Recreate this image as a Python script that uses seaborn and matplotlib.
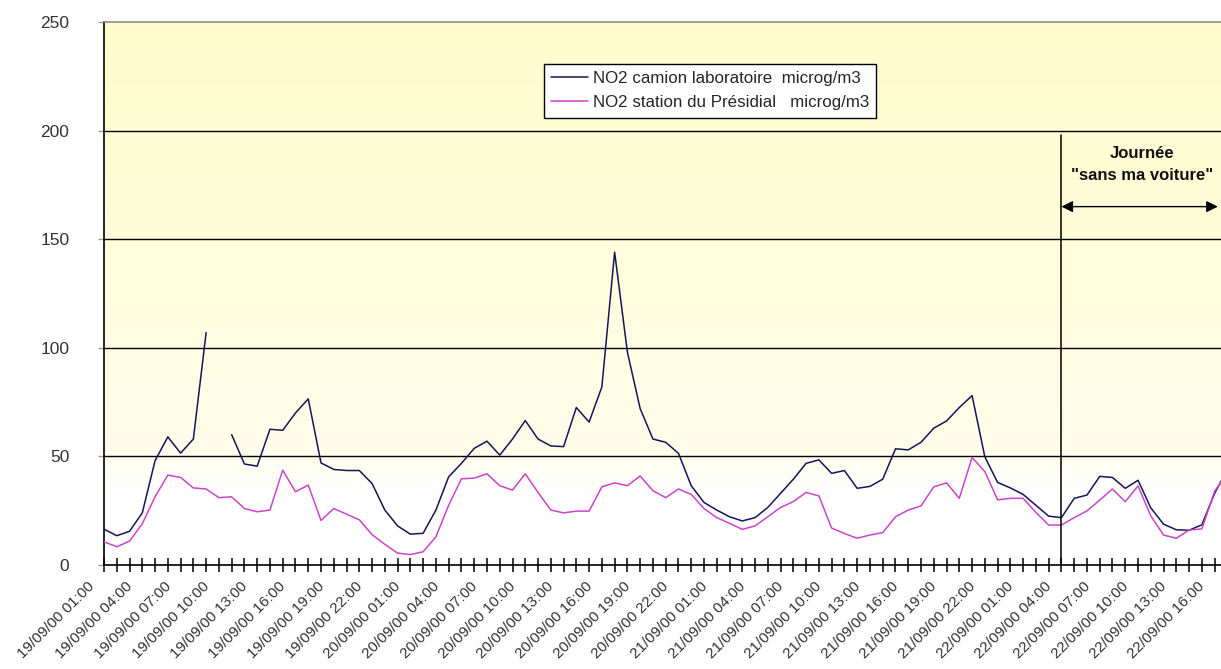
import numpy as np
import pandas as pd
import matplotlib
matplotlib.use("Agg")
import matplotlib.pyplot as plt
from matplotlib.colors import LinearSegmentedColormap
from matplotlib.lines import Line2D
import matplotlib.transforms as mtransforms
import seaborn as sns

# ---------------- data ----------------
series_names = ["NO2 camion laboratoire  microg/m3", "NO2 station du Présidial   microg/m3"]

camion = [16.5, 13.5, 15.5, 24, 48, 59, 51.5, 58, 107, np.nan,
          60, 46.5, 45.5, 62.5, 62, 70, 76.5, 47, 44, 43.5,
          43.5, 37.5, 25.3, 18, 14.2, 14.6, 25.3, 40.6, 46.8, 53.7,
          57, 50.6, 58, 66.5, 58, 54.8, 54.5, 72.5, 65.8, 82,
          144, 98, 72, 58, 56.5, 51.4, 36.5, 28.8, 25.3, 22.2,
          20.3, 21.8, 26.5, 33, 39.5, 46.8, 48.4, 42.2, 43.5, 35.3,
          36.2, 39.5, 53.5, 53, 56.5, 63, 66.3, 72.5, 78, 49.8,
          38, 35.5, 32.5, 27.5, 22.5, 21.8, 30.7, 32.2, 40.8, 40.3,
          35.3, 39, 26.3, 18.8, 16.2, 16, 18.5, 33, 44]

presidial = [10.7, 8.4, 11, 19, 31.4, 41.4, 40.3, 35.5, 35, 31,
             31.4, 26, 24.5, 25.3, 43.7, 33.7, 36.8, 20.5, 26, 23.4,
             20.8, 14, 9.5, 5.5, 4.8, 6.1, 13, 27.5, 39.7, 40,
             42, 36.5, 34.5, 42, 33.4, 25.3, 24, 24.8, 24.8, 36,
             37.8, 36.5, 41, 34.2, 31, 35, 32.5, 26, 21.8, 19.2,
             16.4, 18, 22.2, 26.5, 29.2, 33.4, 31.8, 17, 14.5, 12.3,
             13.8, 14.9, 22.2, 25.3, 27.2, 36, 37.8, 30.7, 49.5, 43,
             30, 30.7, 30.7, 24.2, 18.4, 18.4, 21.8, 24.9, 29.9, 35,
             29.1, 36.4, 22.6, 13.8, 12.3, 16.1, 16.6, 34, 42]

tick_labels = [
    "19/09/00 01:00", "19/09/00 04:00", "19/09/00 07:00", "19/09/00 10:00",
    "19/09/00 13:00", "19/09/00 16:00", "19/09/00 19:00", "19/09/00 22:00",
    "20/09/00 01:00", "20/09/00 04:00", "20/09/00 07:00", "20/09/00 10:00",
    "20/09/00 13:00", "20/09/00 16:00", "20/09/00 19:00", "20/09/00 22:00",
    "21/09/00 01:00", "21/09/00 04:00", "21/09/00 07:00", "21/09/00 10:00",
    "21/09/00 13:00", "21/09/00 16:00", "21/09/00 19:00", "21/09/00 22:00",
    "22/09/00 01:00", "22/09/00 04:00", "22/09/00 07:00", "22/09/00 10:00",
    "22/09/00 13:00", "22/09/00 16:00",
]

event_hour = 75          # 22/09/00 04:00
annot_title = "Journée"
annot_sub = "\"sans ma voiture\""

# ---------------- build long table ----------------
hours = np.arange(len(camion))
rows = []
for name, vals in zip(series_names, [camion, presidial]):
    seg = 0
    for h, v in zip(hours, vals):
        if v is None or (isinstance(v, float) and np.isnan(v)):
            seg += 1
            continue
        rows.append({"hour": h, "value": v, "series": name, "seg": seg})
df = pd.DataFrame(rows)

# ---------------- style ----------------
sns.set_style("white")
plt.rcParams["font.family"] = ["Liberation Sans", "DejaVu Sans"]

W, H = 1221, 669
fig = plt.figure(figsize=(W / 100, H / 100), dpi=100)
fig.patch.set_facecolor("white")
ax = fig.add_axes([104 / W, 1 - 565 / H, 1117 / W, 543 / H])

XMAX = 87.5
YMAX = 250

# gradient background
cmap = LinearSegmentedColormap.from_list(
    "bg",
    [(0.0, "#ffffff"), (0.13, "#ffffff"), (0.22, "#fffeea"),
     (0.6, "#fffdda"), (1.0, "#fefccc")])
grad = np.linspace(0, 1, 256).reshape(-1, 1)
ax.imshow(grad, cmap=cmap, origin="lower", aspect="auto",
          extent=(0, XMAX, 0, YMAX), zorder=0, interpolation="bicubic")

# grid lines
for yv in [50, 100, 150, 200]:
    ax.axhline(yv, color="black", lw=1.0, zorder=1)

palette = {series_names[0]: "#15155a", series_names[1]: "#cc44cc"}
sns.lineplot(data=df, x="hour", y="value", hue="series", units="seg",
             estimator=None, palette=palette, lw=1.1, legend=False,
             ax=ax, zorder=3, sort=True)

ax.set_xlim(0, XMAX)
ax.set_ylim(0, YMAX)
ax.set_xlabel("")
ax.set_ylabel("")

# event vertical line and annotation
ax.plot([event_hour, event_hour], [0, 198], color="black", lw=1.1, zorder=4)
ax.annotate("", xy=(event_hour, 165), xytext=(87.25, 165),
            arrowprops=dict(arrowstyle="<|-|>", color="black", lw=1.0,
                            mutation_scale=17, shrinkA=0, shrinkB=0),
            zorder=5, annotation_clip=False)
ax.text(81.3, 189.5, annot_title, ha="center", va="center",
        fontsize=12, fontweight="bold", color="#111111")
ax.text(81.3, 179.4, annot_sub, ha="center", va="center",
        fontsize=12, fontweight="bold", color="#111111")

# spines
ax.spines["right"].set_visible(False)
ax.spines["top"].set_color("#8c8c8c")
ax.spines["top"].set_linewidth(1.2)
for s in ["left", "bottom"]:
    ax.spines[s].set_color("black")
    ax.spines[s].set_linewidth(1.2)

# y ticks
ax.set_yticks([0, 50, 100, 150, 200, 250])
ax.set_yticklabels(["0", "50", "100", "150", "200", "250"])
ax.tick_params(axis="y", direction="out", length=4, width=1, color="#9a9a9a",
               pad=21, labelsize=12.5, labelcolor="#333333", left=True)

# x ticks
xt = np.arange(0, 88)
ax.set_xticks(xt)
lab = []
for h in xt:
    lab.append(tick_labels[h // 3] if h % 3 == 0 else "")
ax.set_xticklabels(lab, rotation=45, ha="right", va="top")
ax.tick_params(axis="x", direction="inout", length=10, width=1.1,
               color="black", pad=4, labelsize=11, labelcolor="#333333",
               bottom=True)
offset = mtransforms.ScaledTranslation(-7 / 100, -2 / 100, fig.dpi_scale_trans)
for t in ax.get_xticklabels():
    t.set_transform(t.get_transform() + offset)

# legend
handles = [Line2D([0], [0], color=palette[n], lw=1.1) for n in series_names]
leg = ax.legend(handles, series_names, loc="upper left",
                bbox_to_anchor=(0.394, 0.9227), borderaxespad=0,
                frameon=True, fancybox=False, shadow=False, fontsize=12.2,
                handlelength=2.2, handletextpad=0.25, borderpad=0.42,
                labelspacing=0.55)
leg.get_frame().set_edgecolor("black")
leg.get_frame().set_linewidth(1.0)
leg.get_frame().set_facecolor("white")
leg.get_frame().set_alpha(1)

fig.savefig("out.png", dpi=100)
